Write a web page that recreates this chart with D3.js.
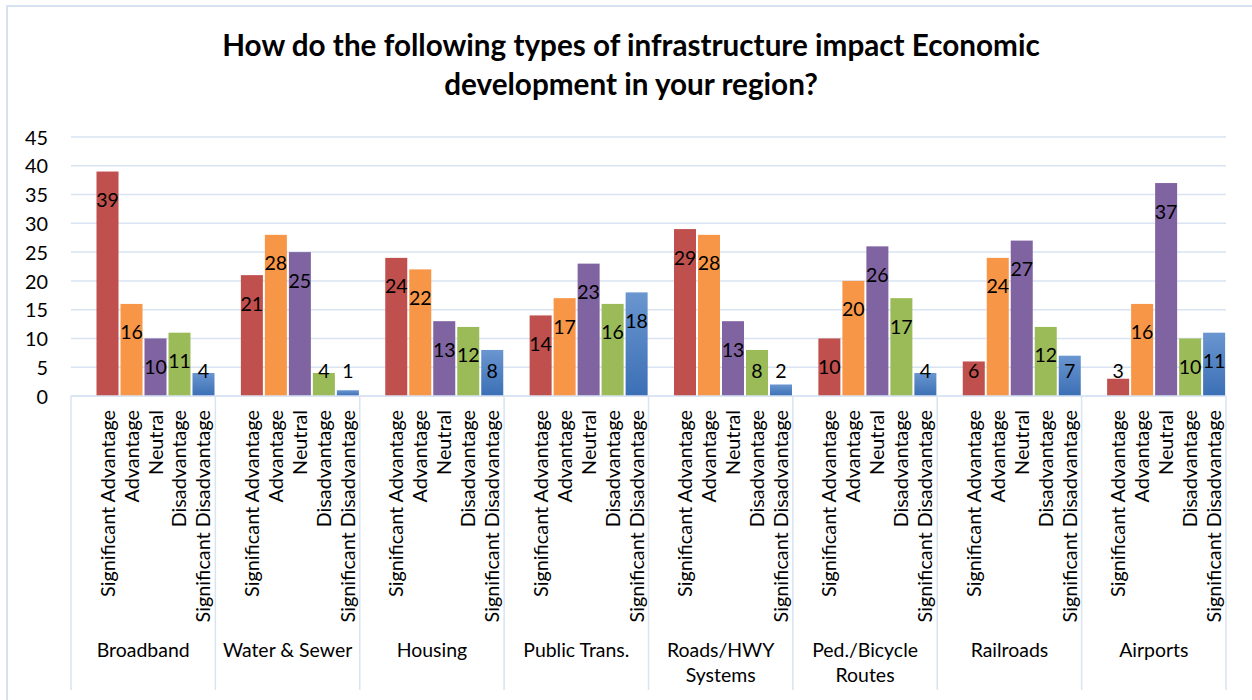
<!DOCTYPE html>
<html>
<head>
<meta charset="utf-8">
<script src="https://cdn.jsdelivr.net/npm/d3@7/dist/d3.min.js"></script>
<style>
  html, body { margin: 0; padding: 0; background: #fff; }
  svg { display: block; font-family: Lato, "Open Sans", sans-serif; }
</style>
</head>
<body>
<svg id="chart" width="1252" height="700"></svg>
<script>
// Survey responses: impact of infrastructure types on economic development
const categories = [
  ["Broadband"],
  ["Water & Sewer"],
  ["Housing"],
  ["Public Trans."],
  ["Roads/HWY", "Systems"],
  ["Ped./Bicycle", "Routes"],
  ["Railroads"],
  ["Airports"]
];
const responses = ["Significant Advantage", "Advantage", "Neutral", "Disadvantage", "Significant Disadvantage"];
const significantAdvantage    = [39, 21, 24, 14, 29, 10, 6, 3];
const advantage               = [16, 28, 22, 17, 28, 20, 24, 16];
const neutral                 = [10, 25, 13, 23, 13, 26, 27, 37];
const disadvantage            = [11, 4, 12, 16, 8, 17, 12, 10];
const significantDisadvantage = [4, 1, 8, 18, 2, 4, 7, 11];
const yTicks = [0, 5, 10, 15, 20, 25, 30, 35, 40, 45];
const titleLines = ["How do the following types of infrastructure impact Economic", "development in your region?"];

const seriesValues = [significantAdvantage, advantage, neutral, disadvantage, significantDisadvantage];
const colors = ["#c0504d", "#f79646", "#8064a2", "#9bbb59", "url(#blueGrad)"];

const svg = d3.select("#chart");

// font size that makes a text node span the given width
function sizeFor(node, width) {
  const base = parseFloat(node.getAttribute("font-size"));
  return base * width / node.getComputedTextLength();
}

const defs = svg.append("defs");
const g = defs.append("linearGradient").attr("id", "blueGrad")
  .attr("x1", 0).attr("y1", 0).attr("x2", 0).attr("y2", 1);
g.append("stop").attr("offset", "0%").attr("stop-color", "#6a96d0");
g.append("stop").attr("offset", "100%").attr("stop-color", "#3b6fb5");

// chart frame
svg.append("rect")
  .attr("x", 7).attr("y", 6).attr("width", 1400).attr("height", 800)
  .attr("fill", "none").attr("stroke", "#d6e1f1").attr("stroke-width", 2);

const plotLeft = 71, plotRight = 1226, plotTop = 137, plotBottom = 396, axisBottom = 690;

const x = d3.scaleBand().domain(d3.range(categories.length)).range([plotLeft, plotRight]).padding(0);
const inner = d3.scaleBand().domain(d3.range(responses.length))
  .range([25.5, 143.5]).paddingInner(0.083).paddingOuter(0);
const y = d3.scaleLinear().domain([0, 45]).range([plotBottom, plotTop]);

// gridlines
svg.append("g").selectAll("line").data(yTicks).join("line")
  .attr("x1", plotLeft).attr("x2", plotRight)
  .attr("y1", d => y(d)).attr("y2", d => y(d))
  .attr("stroke", "#d9e3f2").attr("stroke-width", 1.5);

// y axis labels
const yAxis = svg.append("g")
  .attr("transform", `translate(${plotLeft - 23},0)`)
  .call(d3.axisLeft(y).tickValues(yTicks).tickSize(0).tickPadding(0));
yAxis.select(".domain").remove();
yAxis.selectAll("text")
  .attr("font-family", "Lato, sans-serif").attr("font-size", 20).attr("fill", "#000")
  .attr("dy", "0.36em");

// bars
const groups = svg.append("g").selectAll("g").data(categories).join("g")
  .attr("transform", (d, i) => `translate(${x(i)},0)`);

groups.each(function (cat, ci) {
  const gg = d3.select(this);
  const vals = seriesValues.map(s => s[ci]);
  gg.selectAll("rect").data(vals).join("rect")
    .attr("x", (d, k) => inner(k))
    .attr("width", inner.bandwidth())
    .attr("y", d => y(d))
    .attr("height", d => y(0) - y(d))
    .attr("fill", (d, k) => colors[k]);
  gg.selectAll("text.val").data(vals).join("text")
    .attr("class", "val")
    .attr("x", (d, k) => inner(k) + inner.bandwidth() / 2)
    .attr("y", d => Math.min(y(d) + 28, y(0) - 26) + 7.5)
    .attr("text-anchor", "middle")
    .attr("font-size", 22)
    .attr("fill", "#000")
    .text(d => d);
  // response labels, rotated
  gg.selectAll("text.resp").data(responses).join("text")
    .attr("class", "resp")
    .attr("transform", (d, k) => `translate(${inner(k) + inner.bandwidth() / 2 + 7},410) rotate(-90)`)
    .attr("text-anchor", "end")
    .attr("font-size", 20)
    .attr("fill", "#000")
    .text(d => d);
  // category label
  gg.append("text")
    .attr("class", "cat")
    .attr("x", x.bandwidth() / 2)
    .attr("y", 657)
    .attr("text-anchor", "middle")
    .attr("font-size", 18)
    .attr("fill", "#000")
    .selectAll("tspan").data(cat).join("tspan")
    .attr("x", x.bandwidth() / 2)
    .attr("dy", (d, k) => k === 0 ? 0 : 25)
    .text(d => d);
});

// horizontal axis line and category dividers
svg.append("line")
  .attr("x1", plotLeft).attr("x2", plotRight).attr("y1", plotBottom).attr("y2", plotBottom)
  .attr("stroke", "#d9e3f2").attr("stroke-width", 1.5);
svg.append("g").selectAll("line").data(d3.range(categories.length + 1)).join("line")
  .attr("x1", i => i < categories.length ? x(i) : plotRight)
  .attr("x2", i => i < categories.length ? x(i) : plotRight)
  .attr("y1", plotBottom).attr("y2", axisBottom)
  .attr("stroke", "#d9e3f2").attr("stroke-width", 1.5);

// title
const title = svg.append("g").attr("font-weight", "bold").attr("fill", "#000");
title.selectAll("text").data(titleLines).join("text")
  .attr("x", 631)
  .attr("y", (d, i) => i === 0 ? 56 : 95)
  .attr("text-anchor", "middle")
  .attr("font-size", 28)
  .text(d => d);

// font sizes from the widths of sample strings
const titleSize = sizeFor(title.select("text").node(), 818);
title.selectAll("text").attr("font-size", titleSize.toFixed(2));

const respSize = sizeFor(svg.selectAll("text.resp").filter(d => d === "Significant Advantage").node(), 187);
svg.selectAll("text.resp").attr("font-size", respSize.toFixed(2));

const catSize = sizeFor(svg.select("text.cat").node(), 93);
svg.selectAll("text.cat").attr("font-size", catSize.toFixed(2));

const tickSize = sizeFor(yAxis.selectAll("text").filter(d => d === 45).node(), 23);
yAxis.selectAll("text").attr("font-size", tickSize.toFixed(2));

const valSize = sizeFor(svg.selectAll("text.val").filter(d => d === 39).node(), 22.7);
svg.selectAll("text.val").attr("font-size", valSize.toFixed(2));
</script>
</body>
</html>
